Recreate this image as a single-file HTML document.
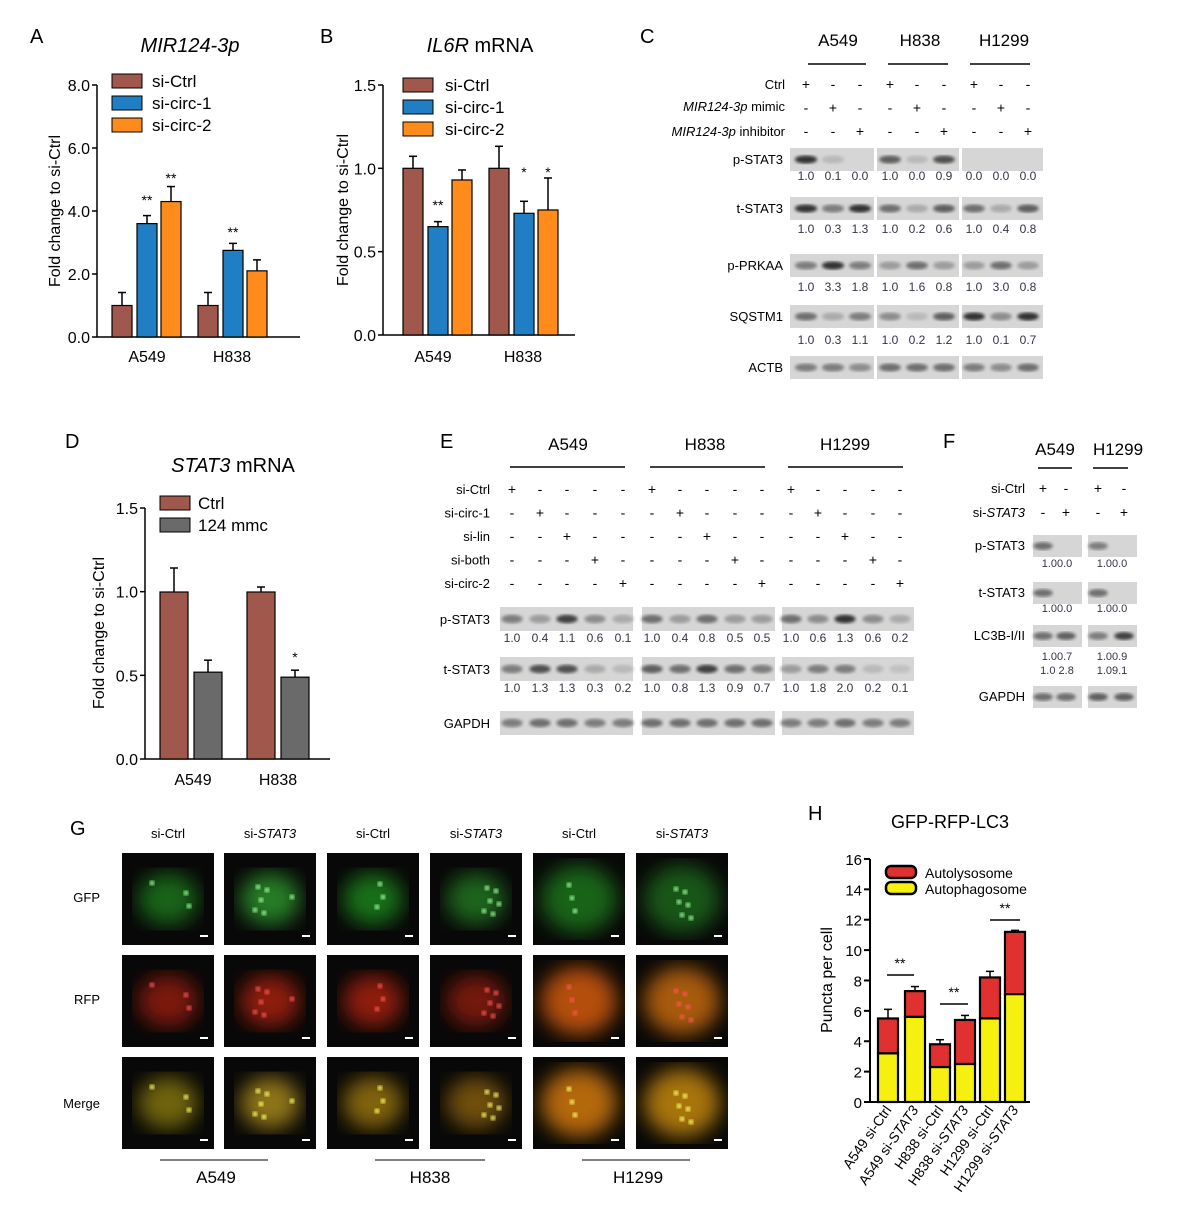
<!DOCTYPE html>
<html><head><meta charset="utf-8"><style>
html,body{margin:0;padding:0;background:#fff;}
svg{display:block;font-family:"Liberation Sans",Arial,sans-serif;}
</style></head><body>
<svg id="s" width="1191" height="1231" viewBox="0 0 1191 1231" xmlns="http://www.w3.org/2000/svg">
<defs>
<filter id="bl"><feGaussianBlur stdDeviation="1.6"/></filter>
<filter id="bl2"><feGaussianBlur stdDeviation="4"/></filter>
<filter id="bl3"><feGaussianBlur stdDeviation="10"/></filter>
</defs>
<rect width="1191" height="1231" fill="#fff"/>
</svg>
<script>
var S=document.getElementById('s'),h='';
function t(x,y,s,sz,a,ex){h+='<text x="'+x+'" y="'+y+'" font-size="'+(sz||14)+'" text-anchor="'+(a||'start')+'" '+(ex||'')+'>'+s+'</text>';}
function r(x,y,w,hh,f,ex){h+='<rect x="'+x+'" y="'+y+'" width="'+w+'" height="'+hh+'" fill="'+f+'" '+(ex||'')+'/>';}
function l(x1,y1,x2,y2,w){h+='<line x1="'+x1+'" y1="'+y1+'" x2="'+x2+'" y2="'+y2+'" stroke="#000" stroke-width="'+(w||1.5)+'"/>';}
var BR='#a0584c',BL='#1f7ec4',OR='#ff8b1a',GR='#6a6a6a';
function axis(x,y0,y1,ticks,vals,xend){l(x,y0,x,y1);l(x,y1,xend,y1);
 for(var i=0;i<ticks.length;i++){var yy=y1-(y1-y0)*i/(ticks.length-1);l(x-5,yy,x,yy);t(x-7,yy+6,ticks[i],16,'end');}}
function bar(x,w,y1,y,f,err){r(x,y,w,y1-y,f,'stroke="#000" stroke-width="1.2"');if(err){l(x+w/2,y,x+w/2,y-err,1.5);l(x+w/2-4,y-err,x+w/2+4,y-err,1.5);}}
// Panel A
t(30,43,'A',20);t(190,52,'<tspan font-style="italic">MIR124-3p</tspan>',20,'middle');
axis(97,85,337,['0.0','2.0','4.0','6.0','8.0'],0,300);
t(60,211,'Fold change to si-Ctrl',16,'middle','transform="rotate(-90 60 211)"');
var ya=function(v){return 337-v*31.5};
bar(112,20,337,ya(1),BR,13);bar(137,20,337,ya(3.6),BL,8);bar(161,20,337,ya(4.3),OR,15);
bar(198,20,337,ya(1),BR,13);bar(223,20,337,ya(2.75),BL,7);bar(247,20,337,ya(2.1),OR,11);
t(147,205,'**',14,'middle');t(171,183,'**',14,'middle');t(233,237,'**',14,'middle');
t(147,362,'A549',16,'middle');t(232,362,'H838',16,'middle');
r(112,74,30,14,BR,'stroke="#000"');t(152,87,'si-Ctrl',17);
r(112,96,30,14,BL,'stroke="#000"');t(152,109,'si-circ-1',17);
r(112,118,30,14,OR,'stroke="#000"');t(152,131,'si-circ-2',17);
// Panel B
t(320,43,'B',20);t(480,52,'<tspan font-style="italic">IL6R</tspan> mRNA',20,'middle');
axis(383,85,335,['0.0','0.5','1.0','1.5'],0,575);
t(348,210,'Fold change to si-Ctrl',16,'middle','transform="rotate(-90 348 210)"');
var yb=function(v){return 335-v*166.7};
bar(403,20,335,yb(1),BR,12);bar(428,20,335,yb(0.65),BL,5);bar(452,20,335,yb(0.93),OR,10);
bar(489,20,335,yb(1),BR,22);bar(514,20,335,yb(0.73),BL,12);bar(538,20,335,yb(0.75),OR,32);
t(438,210,'**',14,'middle');t(524,177,'*',14,'middle');t(548,177,'*',14,'middle');
t(433,362,'A549',16,'middle');t(523,362,'H838',16,'middle');
r(403,78,30,14,BR,'stroke="#000"');t(445,91,'si-Ctrl',17);
r(403,100,30,14,BL,'stroke="#000"');t(445,113,'si-circ-1',17);
r(403,122,30,14,OR,'stroke="#000"');t(445,135,'si-circ-2',17);
// Panel D
t(65,448,'D',20);t(233,472,'<tspan font-style="italic">STAT3</tspan> mRNA',20,'middle');
axis(145,508,759,['0.0','0.5','1.0','1.5'],0,330);
t(104,633,'Fold change to si-Ctrl',16,'middle','transform="rotate(-90 104 633)"');
var yd=function(v){return 759-v*167};
bar(160,28,759,yd(1),BR,24);bar(194,28,759,yd(0.52),GR,12);
bar(247,28,759,yd(1),BR,5);bar(281,28,759,yd(0.49),GR,7);t(295,662,'*',14,'middle');
t(193,785,'A549',16,'middle');t(278,785,'H838',16,'middle');
r(160,496,30,14,BR,'stroke="#000"');t(198,509,'Ctrl',17);
r(160,518,30,14,GR,'stroke="#000"');t(198,531,'124 mmc',17);
// Blots
function band(x,y,w,hh,d){if(d<=0)return;var g=Math.round(200-d*150);h+='<ellipse cx="'+x+'" cy="'+y+'" rx="'+w/2+'" ry="'+hh/2+'" fill="rgb('+g+','+g+','+g+')" filter="url(#bl)"/>';}
function blot(x,y,w,hh,cols,ds,bg){r(x,y,w,hh,bg||'#d6d6d6');for(var i=0;i<cols.length;i++)band(cols[i],y+hh/2,(w/ds.length)*0.8,hh*0.35,ds[i]);}
function nums(cols,y,v,sz){for(var i=0;i<cols.length;i++)t(cols[i],y,v[i],sz||12,'middle','fill="#334"');}
// Panel C
t(640,43,'C',20);
t(838,46,'A549',17,'middle');t(920,46,'H838',17,'middle');t(1004,46,'H1299',17,'middle');
l(808,64,866,64);l(888,64,948,64);l(970,64,1030,64);
var cc=[[806,833,860],[890,917,944],[974,1001,1028]];
t(785,89,'Ctrl',13,'end');t(785,111,'<tspan font-style="italic">MIR124-3p</tspan> mimic',13,'end');t(785,136,'<tspan font-style="italic">MIR124-3p</tspan> inhibitor',13,'end');
var pm=[['+','-','-'],['-','+','-'],['-','-','+']];
for(var g=0;g<3;g++)for(var i=0;i<3;i++)for(var k=0;k<3;k++)t(cc[g][i],89+k*23.5,pm[k][i],14,'middle');
var cr=[['p-STAT3',148,[[1,.1,0],[.7,.1,.8],[0,0,0]],['1.0 0.1 0.0','1.0 0.0 0.9','0.0 0.0 0.0'],180],
['t-STAT3',197,[[1,.5,1],[.6,.2,.7],[.6,.2,.7]],['1.0 0.3 1.3','1.0 0.2 0.6','1.0 0.4 0.8'],233],
['p-PRKAA',254,[[.5,1,.5],[.3,.6,.3],[.3,.6,.3]],['1.0 3.3 1.8','1.0 1.6 0.8','1.0 3.0 0.8'],291],
['SQSTM1',305,[[.6,.2,.5],[.4,.1,.7],[1,.4,1]],['1.0 0.3 1.1','1.0 0.2 1.2','1.0 0.1 0.7'],344],
['ACTB',356,[[.5,.5,.4],[.6,.6,.6],[.5,.4,.6]],null,0]];
var cx=[[790,84],[877,82],[962,81]];
cr.forEach(function(R){t(783,R[1]+16,R[0],13,'end');for(var g=0;g<3;g++){blot(cx[g][0],R[1],cx[g][1],23,cc[g],R[2][g]);if(R[3])nums(cc[g],R[4],R[3][g].split(' '),12);}});
// Panel E
t(440,448,'E',20);
t(568,450,'A549',17,'middle');t(705,450,'H838',17,'middle');t(845,450,'H1299',17,'middle');
l(510,467,625,467);l(650,467,765,467);l(788,467,903,467);
var ec=[[512,540,567,595,623],[652,680,707,735,762],[791,818,845,873,900]];
var el=['si-Ctrl','si-circ-1','si-lin','si-both','si-circ-2'];
for(var k=0;k<5;k++){t(490,494+k*23.5,el[k],13,'end');for(var g=0;g<3;g++)for(var i=0;i<5;i++)t(ec[g][i],494+k*23.5,i==k?'+':'-',14,'middle');}
var ex=[[500,133],[642,133],[782,132]];
var er=[['p-STAT3',607,[[.5,.3,.9,.4,.2],[.6,.3,.6,.3,.3],[.6,.4,1,.4,.2]],['1.0 0.4 1.1 0.6 0.1','1.0 0.4 0.8 0.5 0.5','1.0 0.6 1.3 0.6 0.2'],642],
['t-STAT3',657,[[.5,.8,.8,.2,.1],[.7,.6,.9,.6,.5],[.3,.5,.5,.1,.05]],['1.0 1.3 1.3 0.3 0.2','1.0 0.8 1.3 0.9 0.7','1.0 1.8 2.0 0.2 0.1'],692],
['GAPDH',711,[[.5,.6,.6,.5,.5],[.6,.6,.6,.6,.6],[.5,.5,.6,.5,.5]],null,0]];
er.forEach(function(R){t(490,R[1]+17,R[0],13,'end');for(var g=0;g<3;g++){blot(ex[g][0],R[1],ex[g][1],24,ec[g],R[2][g]);if(R[3])nums(ec[g],R[4],R[3][g].split(' '),12);}});
// Panel F
t(943,448,'F',20);t(1055,455,'A549',17,'middle');t(1118,455,'H1299',17,'middle');
l(1038,468,1072,468);l(1093,468,1128,468);
var fc=[[1043,1066],[1098,1124]];
t(1025,493,'si-Ctrl',13,'end');t(1025,517,'si-<tspan font-style="italic">STAT3</tspan>',13,'end');
for(var g=0;g<2;g++){t(fc[g][0],493,'+',14,'middle');t(fc[g][1],493,'-',14,'middle');t(fc[g][0],517,'-',14,'middle');t(fc[g][1],517,'+',14,'middle');}
var fx=[1033,1088];
var fr=[['p-STAT3',535,[[.6,0],[.5,0]],['1.0 0.0','1.0 0.0'],567],['t-STAT3',582,[[.6,0],[.6,0]],['1.0 0.0','1.0 0.0'],612],['LC3B-I/II',625,[[.6,.7],[.5,.9]],['1.0 0.7','1.0 0.9'],660],['GAPDH',686,[[.6,.6],[.7,.7]],null,0]];
fr.forEach(function(R){t(1025,R[1]+15,R[0],13,'end');for(var g=0;g<2;g++){blot(fx[g],R[1],49,22,fc[g],R[2][g]);if(R[3])t(fx[g]+24,R[4],R[3][g].replace(' ',''),11,'middle','fill="#334"');}});
t(1057,674,'1.0 2.8',11,'middle','fill="#334"');t(1112,674,'1.09.1',11,'middle','fill="#334"');
// Panel G
t(70,835,'G',20);
var gx=[122,224,327,430,533,636],gy=[853,955,1057];
var hd=['si-Ctrl','si-<tspan font-style="italic">STAT3</tspan>'];
for(var i=0;i<6;i++)t(gx[i]+46,838,hd[i%2],13,'middle');
t(100,902,'GFP',13,'end');t(100,1004,'RFP',13,'end');t(100,1108,'Merge',13,'end');
var ch=[['#1a7a1a','#9a1a10','#8a7a10'],['#2f9a2f','#b02010','#b0901a'],['#1a8a1a','#b02010','#a07a10'],['#207a20','#901a10','#8a6010'],['#1a7a1a','#e06010','#e08010'],['#1a6a1a','#d07010','#d09010']];
for(var c=0;c<6;c++)for(var rr=0;rr<3;rr++){var x=gx[c],y=gy[rr];r(x,y,92,92,'#080808');
 var col=ch[c][rr];h+='<ellipse cx="'+(x+46)+'" cy="'+(y+46)+'" rx="'+(c>=4?38:30)+'" ry="'+(c>=4?34:26)+'" fill="'+col+'" opacity="0.8" filter="url(#bl3)"/>';
 var dc=rr==0?'#9f9':(rr==1?'#f55':'#ff6');
 for(var d=0;d<(c%2?6:3);d++){var px=x+30+((d*37+c*13)%40),py=y+30+((d*23+c*7)%36);h+='<circle cx="'+px+'" cy="'+py+'" r="2.5" fill="'+dc+'" filter="url(#bl)"/>';}
 r(x+78,y+82,8,2,'#fff');}
l(160,1160,268,1160,1);l(375,1160,485,1160,1);l(582,1160,690,1160,1);
t(216,1183,'A549',17,'middle');t(430,1183,'H838',17,'middle');t(638,1183,'H1299',17,'middle');
// Panel H
t(808,820,'H',20);t(950,828,'GFP-RFP-LC3',18,'middle');
var yh=function(v){return 1102-v*15.19};
l(870,859,870,1102,2);l(870,1102,1030,1102,2);
for(var v=0;v<=16;v+=2){l(864,yh(v),870,yh(v),2);t(862,yh(v)+6,v,15,'end');}
t(832,980,'Puncta per cell',16,'middle','transform="rotate(-90 832 980)"');
var hb=[[878,5.5,3.2,.6],[905,7.3,5.6,.3],[930,3.8,2.3,.3],[955,5.4,2.5,.3],[980,8.2,5.5,.4],[1005,11.2,7.1,.1]];
hb.forEach(function(b){r(b[0],yh(b[1]),20,yh(b[2])-yh(b[1]),'#e03030','stroke="#000" stroke-width="2.2"');r(b[0],yh(b[2]),20,1102-yh(b[2]),'#f5f010','stroke="#000" stroke-width="2.2"');l(b[0]+10,yh(b[1]),b[0]+10,yh(b[1]+b[3]),1.5);l(b[0]+6,yh(b[1]+b[3]),b[0]+14,yh(b[1]+b[3]),1.5);});
l(887,975,914,975,1.5);t(900,968,'**',14,'middle');l(940,1004,968,1004,1.5);t(954,997,'**',14,'middle');l(990,920,1020,920,1.5);t(1005,913,'**',14,'middle');
r(886,866,30,12,'#e03030','stroke="#000" stroke-width="2.5" rx="5"');t(925,878,'Autolysosome',14);
r(886,882,30,12,'#f5f010','stroke="#000" stroke-width="2.5" rx="5"');t(925,894,'Autophagosome',14);
var hl=['A549 si-Ctrl','A549 si-<tspan font-style="italic">STAT3</tspan>','H838 si-Ctrl','H838 si-<tspan font-style="italic">STAT3</tspan>','H1299 si-Ctrl','H1299 si-<tspan font-style="italic">STAT3</tspan>'];
for(var i=0;i<6;i++){var x=hb[i][0]+14;t(x,1110,hl[i],14,'end','transform="rotate(-55 '+x+' 1110)"');}
S.insertAdjacentHTML('beforeend',h);
</script>
</body></html>
